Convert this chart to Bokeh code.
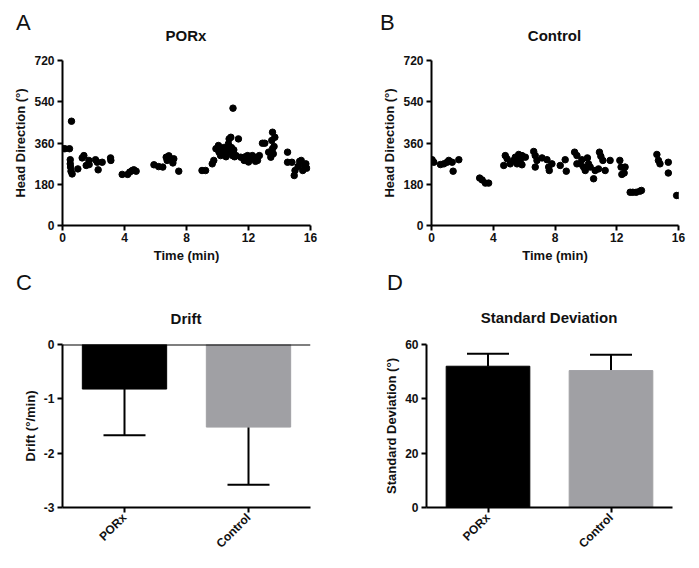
import math
from bokeh.plotting import figure
from bokeh.models import (Range1d, FactorRange, FixedTicker, Span, Whisker, Div,
                          TeeHead, ColumnDataSource, PrintfTickFormatter)
from bokeh.layouts import column, row
from bokeh.embed import file_html
from bokeh.resources import INLINE

# ---------------- data ----------------
porx_time = [0.0, 0.15, 0.45, 0.58, 0.5, 0.5, 0.52, 0.55, 0.62, 0.99, 1.27, 1.38, 1.53, 1.7,
             1.72, 2.13, 2.24, 2.3, 2.56, 3.1, 3.12, 3.85, 4.2, 4.34, 4.5, 4.6, 4.75, 5.9,
             6.2, 6.47, 6.69, 6.75, 6.86, 6.97, 7.18, 7.12, 7.5, 9.0, 9.23, 9.66, 9.76, 9.9,
             10.06, 10.1, 10.2, 10.3, 10.4, 10.5, 10.55, 10.6, 10.7, 10.75, 10.86, 10.8, 10.9,
             10.97, 11.0, 11.05, 11.1, 11.2, 11.35, 11.5, 11.72, 11.8, 11.94, 12.0, 12.15,
             12.25, 12.37, 12.45, 12.58, 12.7, 12.9, 13.05, 13.3, 13.44, 13.5, 13.55, 13.55,
             13.6, 13.65, 13.7, 14.52, 14.52, 14.8, 14.95, 15.0, 15.2, 15.3, 15.4, 15.5,
             15.6, 15.7, 15.75]
porx_hd = [335, 335, 335, 455, 287, 269, 255, 237, 225, 247, 295, 305, 262, 284,
           266, 287, 276, 243, 276, 295, 284, 223, 223, 233, 240, 243, 237, 265,
           257, 255, 298, 284, 304, 291, 291, 273, 237, 240, 240, 269, 284, 335,
           349, 320, 305, 327, 340, 313, 300, 330, 356, 378, 385, 320, 340,
           305, 512, 330, 300, 305, 378, 298, 284, 300, 305, 277, 291,
           305, 298, 280, 284, 305, 359, 359, 320, 298, 371, 407, 335,
           313, 345, 385, 320, 276, 276, 218, 240, 258, 280, 284, 240,
           265, 269, 250]

ctrl_time = [0.04, 0.15, 0.58, 0.8, 1.01, 1.12, 1.34, 1.4, 1.77, 3.12, 3.28, 3.49, 3.7,
             4.68, 4.78, 4.9, 5.1, 5.32, 5.43, 5.54, 5.65, 5.75, 5.86, 5.86, 6.08, 6.62,
             6.72, 6.72, 6.83, 7.16, 7.48, 7.59, 7.63, 7.8, 8.34, 8.66, 8.73, 9.27, 9.42,
             9.42, 9.63, 9.74, 9.85, 9.96, 10.1, 10.17, 10.28, 10.5, 10.6, 10.82, 10.88,
             10.97, 11.1, 11.25, 11.57, 12.2, 12.28, 12.33, 12.48, 12.54, 12.87, 13.04,
             13.26, 13.5, 13.6, 14.6, 14.7, 14.8, 15.34, 15.34, 15.88, 16.0]
ctrl_hd = [287, 276, 266, 269, 276, 284, 276, 237, 287, 207, 199, 185, 185,
           262, 305, 291, 269, 284, 298, 269, 310, 284, 265, 305, 298, 323,
           305, 255, 284, 295, 287, 255, 240, 269, 262, 287, 237, 320, 305,
           269, 269, 287, 255, 240, 295, 269, 255, 204, 240, 247, 320,
           302, 284, 240, 284, 284, 255, 223, 229, 255, 145, 145,
           145, 150, 153, 310, 284, 269, 276, 229, 131, 131]

groups = ["PORx", "Control"]
drift_mean = [-0.82, -1.52]
drift_err = [0.85, 1.06]
sd_mean = [52.0, 50.4]
sd_err = [4.6, 5.8]
bar_colors = ["#000000", "#a0a0a4"]

hd_ticks = [0, 180, 360, 540, 720]
time_ticks = [0, 4, 8, 12, 16]
drift_ticks = [-3, -2, -1, 0]
sd_ticks = [0, 20, 40, 60]

panel_letters = ["A", "B", "C", "D"]
panel_titles = ["PORx", "Control", "Drift", "Standard Deviation"]

FONT = "Liberation Sans"
INK = "#111111"


def header(height, items):
    parts = [f'<div style="position:relative;width:699px;height:{height}px;">']
    for kind, txt, left, top, width in items:
        if kind == "letter":
            parts.append(f'<span style="position:absolute;left:{left}px;top:{top}px;'
                         f'font-family:\'{FONT}\';font-size:22px;line-height:22px;'
                         f'color:{INK};white-space:nowrap;">{txt}</span>')
        else:
            parts.append(f'<span style="position:absolute;left:{left}px;top:{top}px;'
                         f'width:{width}px;text-align:center;font-family:\'{FONT}\';'
                         f'font-size:15px;line-height:15px;font-weight:bold;'
                         f'color:{INK};white-space:nowrap;">{txt}</span>')
    parts.append('</div>')
    return Div(text="".join(parts), width=699, height=height, margin=0)


def make_fig(width, height, left, right, top, bottom, **kw):
    p = figure(width=width, height=height, output_backend="svg", toolbar_location=None,
               min_border_left=left, min_border_right=right,
               min_border_top=top, min_border_bottom=bottom, **kw)
    p.outline_line_color = None
    p.xgrid.visible = False
    p.ygrid.visible = False
    return p


def style_axes(p):
    for ax in p.axis:
        ax.axis_line_width = 2
        ax.major_tick_line_width = 2
        ax.major_tick_out = 5
        ax.major_tick_in = 0
        ax.minor_tick_line_color = None
        ax.major_label_text_font = FONT
        ax.major_label_text_font_style = "bold"
        ax.major_label_text_font_size = "12px"
        ax.major_label_text_color = INK
        ax.major_label_standoff = 3
        ax.axis_label_text_font = FONT
        ax.axis_label_text_font_style = "bold"
        ax.axis_label_text_font_size = "13px"
        ax.axis_label_text_color = INK
        ax.axis_label_standoff = 6
    p.yaxis.axis_label_standoff = 3


def scatter_panel(t, hd, width, left, right):
    p = make_fig(width, 222, left, right, 14, 43,
                 x_range=Range1d(0, 16), y_range=Range1d(0, 720))
    p.scatter(t, hd, size=6.5, color="#000000")
    p.xaxis.ticker = FixedTicker(ticks=time_ticks)
    p.yaxis.ticker = FixedTicker(ticks=hd_ticks)
    p.xaxis.axis_label = "Time (min)"
    p.yaxis.axis_label = "Head Direction (°)"
    style_axes(p)
    p.xaxis.major_label_standoff = 2
    p.xaxis.axis_label_standoff = 3
    return p


pA = scatter_panel(porx_time, porx_hd, 349, 62, 39)
pB = scatter_panel(ctrl_time, ctrl_hd, 350, 82, 21)

# ---- C: drift ----
srcC = ColumnDataSource(dict(g=groups, m=drift_mean,
                             lo=[m - e for m, e in zip(drift_mean, drift_err)], c=bar_colors))
pC = make_fig(349, 234, 62, 39, 10, 59,
              x_range=FactorRange(*groups), y_range=Range1d(-3, 0))
pC.vbar(x="g", top=0, bottom="m", width=0.68, color="c", source=srcC)
pC.add_layout(Whisker(base="g", upper="m", lower="lo", source=srcC, line_width=2,
                      upper_head=None, lower_head=TeeHead(size=42, line_width=2)))
pC.add_layout(Span(location=0, dimension="width", line_width=2, line_color="#000000"))
pC.yaxis.ticker = FixedTicker(ticks=drift_ticks)
pC.yaxis.formatter = PrintfTickFormatter(format="%d")
pC.yaxis.axis_label = "Drift (°/min)"
pC.xaxis.major_label_orientation = math.pi / 4
style_axes(pC)

# ---- D: standard deviation ----
srcD = ColumnDataSource(dict(g=groups, m=sd_mean,
                             hi=[m + e for m, e in zip(sd_mean, sd_err)], c=bar_colors))
pD = make_fig(350, 234, 77, 27, 8, 61,
              x_range=FactorRange(*groups), y_range=Range1d(0, 60))
pD.vbar(x="g", top="m", bottom=0, width=0.68, color="c", source=srcD)
pD.add_layout(Whisker(base="g", upper="hi", lower="m", source=srcD, line_width=2,
                      lower_head=None, upper_head=TeeHead(size=42, line_width=2)))
pD.yaxis.ticker = FixedTicker(ticks=sd_ticks)
pD.yaxis.axis_label = "Standard Deviation (°)"
pD.xaxis.major_label_orientation = math.pi / 4
style_axes(pD)

head1 = header(46, [("letter", panel_letters[0], 16, 12, 0),
                    ("title", panel_titles[0], 62, 28, 248),
                    ("letter", panel_letters[1], 380, 12, 0),
                    ("title", panel_titles[1], 431, 28, 247)])
head2 = header(66, [("letter", panel_letters[2], 16, 4, 0),
                    ("title", panel_titles[2], 62, 43, 248),
                    ("letter", panel_letters[3], 387, 4, 0),
                    ("title", panel_titles[3], 426, 42, 246)])

layout = column(head1, row(pA, pB), head2, row(pC, pD))
open("out.html", "w").write(file_html(layout, INLINE))
